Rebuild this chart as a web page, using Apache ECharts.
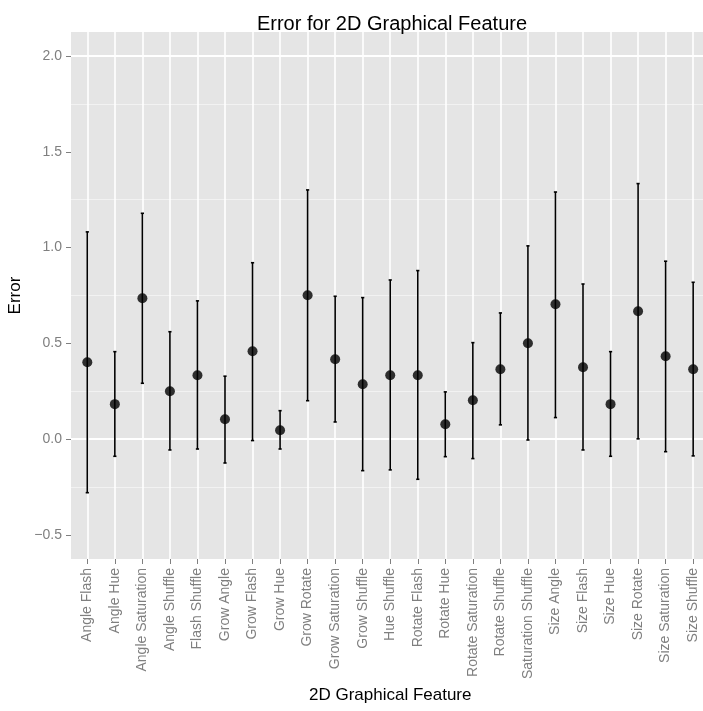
<!DOCTYPE html>
<html>
<head>
<meta charset="utf-8">
<script src="https://cdn.jsdelivr.net/npm/echarts@6/dist/echarts.min.js"></script>
<style>
html,body{margin:0;padding:0;background:#fff;}
#chart{width:703px;height:711px;}
</style>
</head>
<body>
<div id="chart"></div>
<script>
// ---- data ----
const categories = ["Angle Flash","Angle Hue","Angle Saturation","Angle Shuffle","Flash Shuffle","Grow Angle","Grow Flash","Grow Hue","Grow Rotate","Grow Saturation","Grow Shuffle","Hue Shuffle","Rotate Flash","Rotate Hue","Rotate Saturation","Rotate Shuffle","Saturation Shuffle","Size Angle","Size Flash","Size Hue","Size Rotate","Size Saturation","Size Shuffle"];
const meanError = [0.402,0.183,0.736,0.250,0.334,0.104,0.459,0.047,0.751,0.417,0.287,0.334,0.334,0.078,0.203,0.365,0.501,0.704,0.376,0.183,0.668,0.433,0.365];
const lowerError = [-0.279,-0.089,0.292,-0.056,-0.051,-0.124,-0.007,-0.051,0.201,0.090,-0.164,-0.160,-0.209,-0.091,-0.101,0.075,-0.004,0.113,-0.056,-0.089,0.002,-0.065,-0.087];
const upperError = [1.082,0.457,1.179,0.561,0.722,0.329,0.921,0.149,1.301,0.746,0.739,0.831,0.880,0.247,0.504,0.659,1.009,1.290,0.810,0.457,1.334,0.929,0.819];
const yTicks = [-0.5,0,0.5,1.0,1.5,2.0];

const FONT = 'Liberation Sans, Arial, Helvetica, sans-serif';
const Y_MIN = -0.625, Y_MAX = 2.125, Y_STEP = 0.125;
const T = 'rgba(0,0,0,0)';

const chart = echarts.init(document.getElementById('chart'), null, {renderer:'canvas'});

const pointData = categories.map((c,i)=>[i, meanError[i]]);
const barData = categories.map((c,i)=>[i, lowerError[i], upperError[i]]);

const fmt = v => (v < 0 ? '\u2212' : '') + Math.abs(v).toFixed(1);

const option = {
  backgroundColor:'#ffffff',
  animation:false,
  textStyle:{fontFamily:FONT},
  title:{
    text:'Error for 2D Graphical Feature',
    left:387, top:9, textAlign:'center',
    textStyle:{fontSize:20, fontWeight:'normal', color:'#000', fontFamily:FONT}
  },
  grid:[
    {left:71, top:32, width:640, height:527, show:true, backgroundColor:'#e5e5e5', borderWidth:0, containLabel:false, outerBoundsMode:'none'},
    {left:73.53, top:32, width:633.4, height:527, show:false, containLabel:false, outerBoundsMode:'none'}
  ],
  xAxis:[
    {gridIndex:0, type:'value', min:0, max:1, show:false},
    {gridIndex:1, type:'category', data:categories, boundaryGap:true, position:'bottom',
     name:'2D Graphical Feature', nameLocation:'middle', nameGap:128,
     nameTextStyle:{fontSize:17, color:'#000', fontFamily:FONT},
     axisLine:{show:false, onZero:false},
     axisTick:{show:true, alignWithLabel:true, length:5, lineStyle:{color:'#7f7f7f', width:1}},
     splitLine:{show:true, alignWithLabel:true, lineStyle:{color:'#ffffff', width:1.6}},
     axisLabel:{rotate:90, interval:0, margin:9, fontSize:14, color:'#7f7f7f', fontFamily:FONT}
    }
  ],
  yAxis:[
    {gridIndex:0, type:'value', min:Y_MIN, max:Y_MAX, interval:Y_STEP,
     name:'Error', nameLocation:'middle', nameGap:38, nameRotate:90,
     nameTextStyle:{fontSize:17, color:'#000', fontFamily:FONT},
     axisLine:{show:false},
     axisTick:{show:true, length:5, customValues:yTicks, lineStyle:{color:'#7f7f7f', width:1}},
     axisLabel:{show:true, margin:9, customValues:yTicks, formatter:fmt, fontSize:14, color:'#7f7f7f', fontFamily:FONT},
     splitLine:{show:true, lineStyle:{color:[T,'#ffffff',T,T], width:1.8}}
    },
    {gridIndex:0, type:'value', min:Y_MIN, max:Y_MAX, interval:Y_STEP, position:'left',
     axisLine:{show:false}, axisTick:{show:false}, axisLabel:{show:false},
     splitLine:{show:true, lineStyle:{color:[T,T,T,'#f2f2f2'], width:1}}
    },
    {gridIndex:1, type:'value', min:Y_MIN, max:Y_MAX, show:false, splitLine:{show:false}}
  ],
  series:[
    {
      type:'custom', xAxisIndex:1, yAxisIndex:2, data:barData,
      encode:{x:0, y:[1,2]},
      renderItem:function(params, api){
        const x = api.value(0);
        const pHi = api.coord([x, api.value(2)]);
        const pLo = api.coord([x, api.value(1)]);
        const hw = 1.6;
        const st = {stroke:'#000', lineWidth:1.6};
        return {type:'group', children:[
          {type:'line', shape:{x1:pHi[0], y1:pHi[1], x2:pLo[0], y2:pLo[1]}, style:st},
          {type:'line', shape:{x1:pHi[0]-hw, y1:pHi[1], x2:pHi[0]+hw, y2:pHi[1]}, style:st},
          {type:'line', shape:{x1:pLo[0]-hw, y1:pLo[1], x2:pLo[0]+hw, y2:pLo[1]}, style:st}
        ]};
      },
      z:3
    },
    {
      type:'scatter', xAxisIndex:1, yAxisIndex:2, data:pointData,
      symbol:'circle', symbolSize:10, itemStyle:{color:'#000'}, z:4
    }
  ]
};
chart.setOption(option);
</script>
</body>
</html>
